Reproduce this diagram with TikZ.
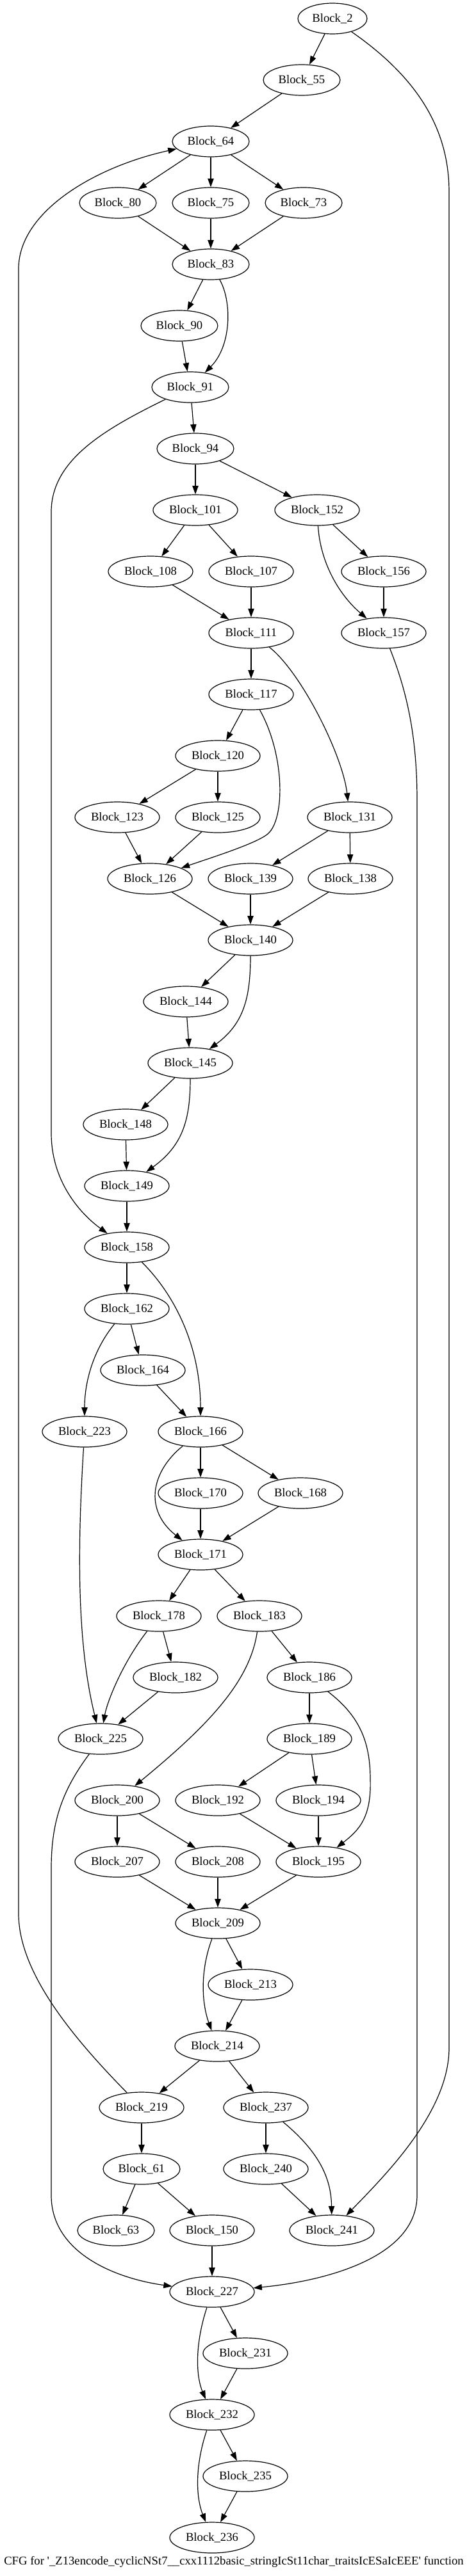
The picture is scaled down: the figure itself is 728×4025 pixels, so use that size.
\documentclass[tikz,border=0pt]{standalone}
\usepackage{fontspec}
\newfontfamily\gvfont{Liberation Serif}
\usetikzlibrary{shapes.geometric,arrows.meta}
\tikzset{
  blk/.style={ellipse,draw,line width=0.9pt,inner sep=0pt,minimum height=36pt,font=\gvfont\fontsize{14pt}{16pt}\selectfont},
  n1/.style={blk,minimum width=81pt},
  n2/.style={blk,minimum width=90pt},
  n3/.style={blk,minimum width=99pt},
  e/.style={line width=0.9pt,-{Triangle[length=10pt,width=7pt]}}
}
\begin{document}
\begin{tikzpicture}[x=0.75pt,y=-0.75pt]
\useasboundingbox (0,0) rectangle (728,4025);
\node[n1] (b2) at (519,29) {Block\_2};
\node[n2] (b55) at (471,125) {Block\_55};
\node[n2] (b64) at (329,221) {Block\_64};
\node[n2] (b80) at (184,317) {Block\_80};
\node[n2] (b75) at (329,317) {Block\_75};
\node[n2] (b73) at (474,317) {Block\_73};
\node[n2] (b83) at (329,413) {Block\_83};
\node[n2] (b90) at (280,509) {Block\_90};
\node[n2] (b91) at (297,605) {Block\_91};
\node[n2] (b94) at (305,701) {Block\_94};
\node[n3] (b101) at (305,797) {Block\_101};
\node[n3] (b152) at (495,797) {Block\_152};
\node[n3] (b108) at (235,893) {Block\_108};
\node[n3] (b107) at (392,893) {Block\_107};
\node[n3] (b156) at (599,893) {Block\_156};
\node[n3] (b111) at (392,989) {Block\_111};
\node[n3] (b157) at (599,989) {Block\_157};
\node[n3] (b117) at (392,1085) {Block\_117};
\node[n3] (b120) at (340,1181) {Block\_120};
\node[n3] (b123) at (183,1277) {Block\_123};
\node[n3] (b125) at (340,1277) {Block\_125};
\node[n3] (b131) at (546,1277) {Block\_131};
\node[n3] (b126) at (234,1373) {Block\_126};
\node[n3] (b139) at (391,1373) {Block\_139};
\node[n3] (b138) at (547,1373) {Block\_138};
\node[n3] (b140) at (391,1469) {Block\_140};
\node[n3] (b144) at (290,1565) {Block\_144};
\node[n3] (b145) at (297,1661) {Block\_145};
\node[n3] (b148) at (196,1757) {Block\_148};
\node[n3] (b149) at (198,1853) {Block\_149};
\node[n3] (b158) at (198,1949) {Block\_158};
\node[n3] (b162) at (198,2045) {Block\_162};
\node[n3] (b164) at (223,2141) {Block\_164};
\node[n3] (b223) at (132,2237) {Block\_223};
\node[n3] (b166) at (313,2237) {Block\_166};
\node[n3] (b170) at (313,2333) {Block\_170};
\node[n3] (b168) at (469,2333) {Block\_168};
\node[n3] (b171) at (313,2429) {Block\_171};
\node[n3] (b178) at (248,2525) {Block\_178};
\node[n3] (b183) at (405,2525) {Block\_183};
\node[n3] (b182) at (274,2621) {Block\_182};
\node[n3] (b186) at (483,2621) {Block\_186};
\node[n3] (b225) at (157,2717) {Block\_225};
\node[n3] (b189) at (483,2717) {Block\_189};
\node[n3] (b200) at (183,2813) {Block\_200};
\node[n3] (b192) at (340,2813) {Block\_192};
\node[n3] (b194) at (497,2813) {Block\_194};
\node[n3] (b207) at (183,2909) {Block\_207};
\node[n3] (b208) at (340,2909) {Block\_208};
\node[n3] (b195) at (497,2909) {Block\_195};
\node[n3] (b209) at (340,3005) {Block\_209};
\node[n3] (b213) at (391,3101) {Block\_213};
\node[n3] (b214) at (339,3197) {Block\_214};
\node[n3] (b219) at (221,3293) {Block\_219};
\node[n3] (b237) at (415,3293) {Block\_237};
\node[n2] (b61) at (221,3389) {Block\_61};
\node[n3] (b240) at (415,3389) {Block\_240};
\node[n2] (b63) at (181,3485) {Block\_63};
\node[n3] (b150) at (331,3485) {Block\_150};
\node[n3] (b241) at (518,3485) {Block\_241};
\node[n3] (b227) at (331,3581) {Block\_227};
\node[n3] (b231) at (383,3677) {Block\_231};
\node[n3] (b232) at (331,3773) {Block\_232};
\node[n3] (b235) at (383,3869) {Block\_235};
\node[n3] (b236) at (331,3965) {Block\_236};
\node[font=\gvfont\fontsize{14pt}{16pt}\selectfont] (cap) at (365,4003) {CFG for '\_Z13encode\_cyclicNSt7\_\_cxx1112basic\_stringIcSt11char\_traitsIcESaIcEEE' function};

% straight edges
\draw[e] (b2) -- (b55);
\draw[e] (b55) -- (b64);
\draw[e] (b64) -- (b80);
\draw[e] (b64) -- (b75);
\draw[e] (b64) -- (b73);
\draw[e] (b80) -- (b83);
\draw[e] (b75) -- (b83);
\draw[e] (b73) -- (b83);
\draw[e] (b83) -- (b90);
\draw[e] (b90) -- (b91);
\draw[e] (b91) -- (b94);
\draw[e] (b94) -- (b101);
\draw[e] (b94) -- (b152);
\draw[e] (b101) -- (b108);
\draw[e] (b101) -- (b107);
\draw[e] (b152) -- (b156);
\draw[e] (b108) -- (b111);
\draw[e] (b107) -- (b111);
\draw[e] (b156) -- (b157);
\draw[e] (b111) -- (b117);
\draw[e] (b117) -- (b120);
\draw[e] (b120) -- (b123);
\draw[e] (b120) -- (b125);
\draw[e] (b123) -- (b126);
\draw[e] (b125) -- (b126);
\draw[e] (b131) -- (b139);
\draw[e] (b131) -- (b138);
\draw[e] (b126) -- (b140);
\draw[e] (b139) -- (b140);
\draw[e] (b138) -- (b140);
\draw[e] (b140) -- (b144);
\draw[e] (b144) -- (b145);
\draw[e] (b145) -- (b148);
\draw[e] (b148) -- (b149);
\draw[e] (b149) -- (b158);
\draw[e] (b158) -- (b162);
\draw[e] (b162) -- (b164);
\draw[e] (b164) -- (b166);
\draw[e] (b166) -- (b170);
\draw[e] (b166) -- (b168);
\draw[e] (b170) -- (b171);
\draw[e] (b168) -- (b171);
\draw[e] (b171) -- (b178);
\draw[e] (b171) -- (b183);
\draw[e] (b178) -- (b182);
\draw[e] (b182) -- (b225);
\draw[e] (b183) -- (b186);
\draw[e] (b186) -- (b189);
\draw[e] (b189) -- (b192);
\draw[e] (b189) -- (b194);
\draw[e] (b192) -- (b195);
\draw[e] (b194) -- (b195);
\draw[e] (b200) -- (b207);
\draw[e] (b200) -- (b208);
\draw[e] (b207) -- (b209);
\draw[e] (b208) -- (b209);
\draw[e] (b195) -- (b209);
\draw[e] (b209) -- (b213);
\draw[e] (b213) -- (b214);
\draw[e] (b214) -- (b219);
\draw[e] (b214) -- (b237);
\draw[e] (b219) -- (b61);
\draw[e] (b237) -- (b240);
\draw[e] (b240) -- (b241);
\draw[e] (b61) -- (b63);
\draw[e] (b61) -- (b150);
\draw[e] (b150) -- (b227);
\draw[e] (b227) -- (b231);
\draw[e] (b231) -- (b232);
\draw[e] (b232) -- (b235);
\draw[e] (b235) -- (b236);

% curved edges
\draw[e] (b2) .. controls (650,120) and (701,200) .. (701,300) -- (701,3200) .. controls (701,3300) and (600,3400) .. (b241);
\draw[e] (b83) .. controls (362,470) and (362,540) .. (b91);
\draw[e] (b91) .. controls (160,672) and (80,720) .. (80,800) -- (80,1770) .. controls (80,1850) and (130,1900) .. (b158);
\draw[e] (b152) .. controls (500,880) and (530,930) .. (b157);
\draw[e] (b157) .. controls (635,1080) and (651,1150) .. (651,1250) -- (651,3430) .. controls (651,3530) and (500,3565) .. (b227);
\draw[e] (b111) .. controls (470,1050) and (535,1180) .. (b131);
\draw[e] (b117) .. controls (445,1180) and (445,1280) .. (418,1303) .. controls (400,1318) and (330,1340) .. (b126);
\draw[e] (b140) .. controls (391,1560) and (380,1600) .. (b145);
\draw[e] (b145) .. controls (297,1750) and (285,1790) .. (b149);
\draw[e] (b158) .. controls (270,2020) and (313,2100) .. (b166);
\draw[e] (b162) .. controls (145,2110) and (132,2160) .. (b223);
\draw[e] (b223) .. controls (122,2400) and (118,2560) .. (b225);
\draw[e] (b166) .. controls (235,2300) and (225,2360) .. (b171);
\draw[e] (b178) .. controls (190,2600) and (167,2660) .. (b225);
\draw[e] (b183) .. controls (390,2630) and (320,2700) .. (b200);
\draw[e] (b186) .. controls (560,2680) and (578,2720) .. (578,2780) .. controls (580,2840) and (560,2860) .. (b195);
\draw[e] (b209) .. controls (312,3080) and (315,3130) .. (b214);
\draw[e] (b219) .. controls (110,3180) and (29,3080) .. (29,2990) -- (29,420) .. controls (29,330) and (150,260) .. (b64);
\draw[e] (b237) .. controls (495,3360) and (517,3400) .. (b241);
\draw[e] (b225) .. controls (95,2800) and (80,2850) .. (80,2920) -- (80,3430) .. controls (80,3520) and (180,3560) .. (b227);
\draw[e] (b227) .. controls (305,3660) and (305,3710) .. (b232);
\draw[e] (b232) .. controls (305,3850) and (305,3900) .. (b236);
\end{tikzpicture}
\end{document}
